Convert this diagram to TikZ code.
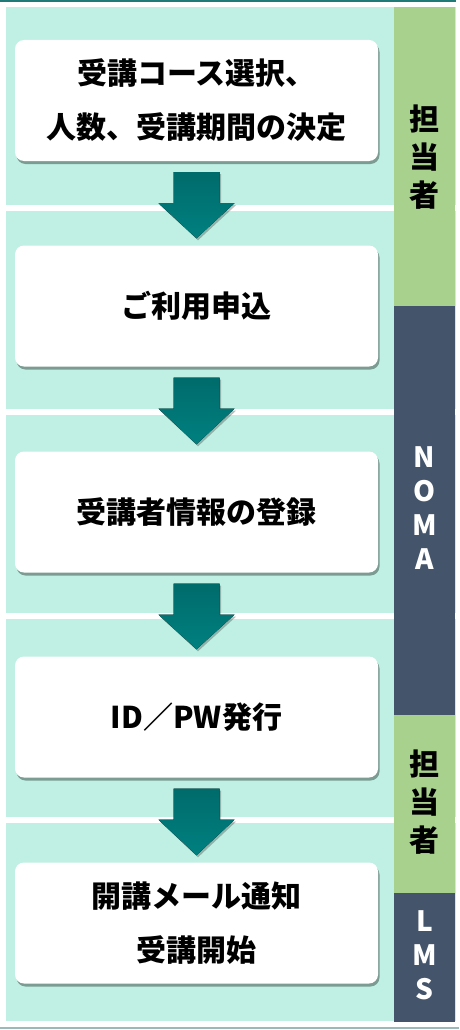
\documentclass[tikz,border=0pt]{standalone}
\usepackage{fontspec}
\setmainfont{Noto Sans CJK JP}
\usepackage{tikz}
\usetikzlibrary{calc, shadows}

\definecolor{mint}{HTML}{BFF0E3}
\definecolor{rolegreen}{HTML}{A9D18E}
\definecolor{roleslate}{HTML}{44546A}
\definecolor{arrowtop}{HTML}{006B6B}
\definecolor{arrowbot}{HTML}{008080}
\definecolor{topline}{HTML}{1F7A78}
\definecolor{botline}{HTML}{9BB9B9}

\tikzset{
    band/.style={fill=mint, draw=none},
    stepbox/.style={rectangle, rounded corners=9pt, fill=white, draw=none,
        minimum width=363pt, minimum height=121pt, align=center,
        font=\bfseries\fontsize{30}{54}\selectfont,
        drop shadow={shadow xshift=1.5pt, shadow yshift=-3pt, fill=black, opacity=0.35}},
    flowarrow/.style={top color=arrowtop, bottom color=arrowbot, draw=none,
        drop shadow={shadow xshift=1.5pt, shadow yshift=-2pt, fill=black, opacity=0.25}},
    rolelabel/.style={align=center, inner sep=0pt, font=\bfseries\fontsize{30}{38}\selectfont},
    rolelatin/.style={align=center, inner sep=0pt, text=white, font=\bfseries\fontsize{28}{34}\selectfont}
}

\begin{document}
\begin{tikzpicture}[x=1pt, y=-1pt]
    \useasboundingbox (0, 0) rectangle (459, 1030);
    \draw[topline, line width=2pt] (0, 1) -- (456, 1);
    \draw[botline, line width=2pt] (0, 1028) -- (459, 1028);

    % bands
    \foreach \y in {7, 211, 415, 619, 823}
        \fill[band] (6, \y) rectangle (456, \y+198);

    % role column
    \fill[rolegreen] (394, 7) rectangle (455, 306);
    \fill[roleslate] (394, 306) rectangle (455, 715);
    \fill[rolegreen] (394, 715) rectangle (455, 893);
    \fill[roleslate] (394, 893) rectangle (455, 1022);
    \node[rolelabel] (r1) at (424.5, 157) {担\\当\\者};
    \node[rolelatin] (r2) at (424.5, 508) {N\\O\\M\\A};
    \node[rolelabel] (r3) at (424.5, 802) {担\\当\\者};
    \node[rolelatin] (r4) at (424.5, 955) {L\\M\\S};

    % steps
    \node[stepbox] (b1) at (196.5, 100.5) {受講コース選択、\\人数、受講期間の決定};
    \node[stepbox] (b2) at (196.5, 306) {ご利用申込};
    \node[stepbox] (b3) at (196.5, 512) {受講者情報の登録};
    \node[stepbox] (b4) at (196.5, 717) {ID／PW発行};
    \node[stepbox] (b5) at (196.5, 923) {開講メール通知\\受講開始};

    % arrows
    \foreach \a/\b in {b1/b2, b2/b3, b3/b4, b4/b5}
        \fill[flowarrow] ($(\a.south)+(-23, 11)$) -- ++(46, 0) -- ++(0, 31)
            -- ++(15, 0) -- ($(\b.north)+(0, -7)$) -- ($(\a.south)+(-38, 42)$)
            -- ++(15, 0) -- cycle;
\end{tikzpicture}
\end{document}
